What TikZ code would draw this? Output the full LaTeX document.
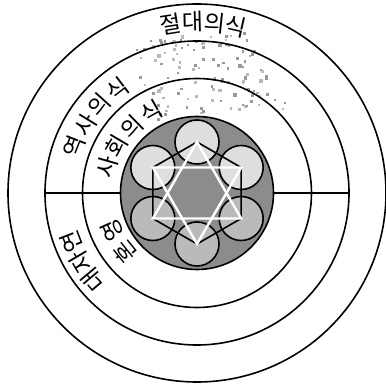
\documentclass[tikz,border=0pt]{standalone}
\usepackage{fontspec}
\newfontfamily\kr{Noto Sans CJK KR}
\begin{document}
\begin{tikzpicture}[x=1pt,y=1pt,
  ring/.style={draw=black,line width=1.6pt},
  lbl/.style={inner sep=0pt,font=\kr\fontsize{23}{23}\selectfont},
  lightc/.style={fill=black!13},
  midc/.style={fill=black!27},
  outl/.style={draw=black,line width=1.6pt},
]
\useasboundingbox (-197,-194) rectangle (188,193);
\coordinate (c) at (0,0);
% scattered dots
\pgfmathsetseed{11}
\foreach \i in {1,...,115}{
  \pgfmathsetmacro\u{0.5*(rand+1)}
  \pgfmathsetmacro\v{0.5*(rand+1)}
  \pgfmathsetmacro\px{(1-\v)*(-62+110*\u)+\v*(-52+147*\u)}
  \pgfmathsetmacro\py{(1-\v)*(155+6*\u)+\v*(71+10*\u)}
  \pgfmathsetmacro\s{rnd<0.5 ? 1.6 : 1.1}
  \pgfmathsetmacro\k{rnd<0.55 ? 40 : 27}
  \fill[black!\k] (\px-\s,\py-\s) rectangle (\px+\s,\py+\s);
}
% rings
\draw[ring] (c) circle (189pt);
\draw[ring] (c) circle (152pt);
\draw[ring] (c) circle (114.5pt);
\node[circle,minimum size=153pt,inner sep=0pt,ring,fill=black!45] (core) at (c) {};
\coordinate (w2) at (180:152pt);
\coordinate (e2) at (0:152pt);
\draw[ring] (w2) -- (core.west);
\draw[ring] (core.east) -- (e2);
% six small circles
\foreach \a/\st in {30/lightc,90/lightc,150/lightc,210/midc,270/midc,330/midc}{
  \fill[\st] (\a:51pt) circle (22pt);
}
\foreach \a in {30,90,150,210,270,330}{
  \draw[outl] (\a:51pt) circle (22pt);
  \coordinate (h\a) at (\a:51pt);
}
\draw[outl,line join=round] (h30) -- (h90) -- (h150) -- (h210) -- (h270) -- (h330) -- cycle;
\draw[white,line width=2.4pt,line join=miter] (h90) -- (h210) -- (h330) -- cycle;
\draw[white,line width=2.4pt,line join=miter] (h270) -- (h30) -- (h150) -- cycle;
% labels
\node[lbl,rotate=9]  (a1) at (99:171pt) {절};
\node[lbl,rotate=1.5](a2) at (91.5:171pt) {대};
\node[lbl,rotate=-6] (a3) at (84:171pt) {의};
\node[lbl,rotate=-13](a4) at (77:171pt) {식};
\node[lbl,rotate=69]   (b1) at (159:131pt) {역};
\node[lbl,rotate=58.5] (b2) at (148.5:131pt) {사};
\node[lbl,rotate=48]   (b3) at (138:131pt) {의};
\node[lbl,rotate=37.5] (b4) at (127.5:131pt) {식};
\node[lbl,rotate=74]   (s1) at (164:93pt) {사};
\node[lbl,rotate=59.5] (s2) at (149.5:93pt) {회};
\node[lbl,rotate=44.5] (s3) at (134.5:93pt) {의};
\node[lbl,rotate=29.5] (s4) at (119.5:93pt) {식};
\node[lbl,rotate=130]  (n1) at (220:135pt) {대};
\node[lbl,rotate=120.5](n2) at (210.5:135pt) {자};
\node[lbl,rotate=111]  (n3) at (201:135pt) {연};
\node[lbl,rotate=129]  (m1) at (219:93pt) {혼};
\node[lbl,rotate=114]  (m2) at (204:93pt) {영};
\end{tikzpicture}
\end{document}
